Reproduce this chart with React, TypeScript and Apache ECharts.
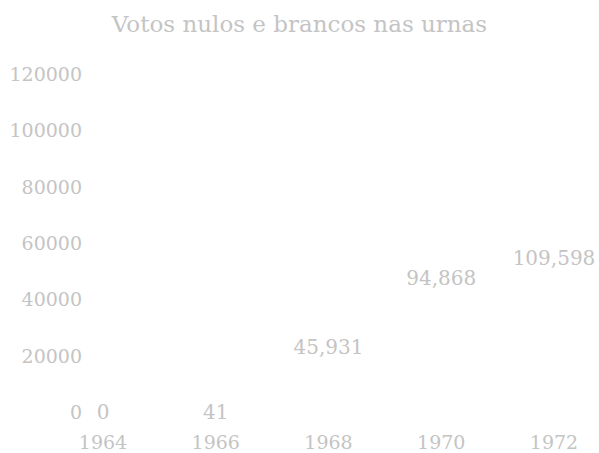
import React, { useEffect, useRef } from "react";
import * as echarts from "echarts";

const titleText = "Votos nulos e brancos nas urnas";
const years = ["1964", "1966", "1968", "1970", "1972"];
const values = [0, 41, 45931, 94868, 109598];
const yTicks = { min: 0, max: 120000, interval: 20000 };

const TEXT = "#c4c4c4";
const FONT = "DejaVu Serif";

export default function App() {
  const ref = useRef<HTMLDivElement>(null);
  useEffect(() => {
    document.body.style.margin = "0";
    if (!ref.current) return;
    const chart = echarts.init(ref.current, null, { renderer: "svg" });
    chart.setOption({
      animation: false,
      backgroundColor: "#ffffff",
      title: {
        text: titleText,
        left: "center",
        top: 7,
        textStyle: { color: TEXT, fontFamily: FONT, fontSize: 23, fontWeight: "normal" },
      },
      grid: { left: 103, right: 45, top: 74, bottom: 41, containLabel: false },
      xAxis: {
        type: "category",
        data: years,
        boundaryGap: false,
        axisLine: { show: false },
        axisTick: { show: false },
        splitLine: { show: false },
        axisLabel: { color: TEXT, fontFamily: FONT, fontSize: 19, margin: 20 },
      },
      yAxis: {
        type: "value",
        min: yTicks.min,
        max: yTicks.max,
        interval: yTicks.interval,
        axisLine: { show: false },
        axisTick: { show: false },
        splitLine: { show: false },
        axisLabel: {
          color: TEXT,
          fontFamily: FONT,
          fontSize: 19,
          margin: 21,
          formatter: (v: number) => String(v),
        },
      },
      series: [
        {
          type: "bar",
          data: values,
          barWidth: 40,
          itemStyle: { color: "rgba(255,255,255,0)" },
          label: {
            show: true,
            position: "inside",
            color: TEXT,
            fontFamily: FONT,
            fontSize: 20,
            formatter: (p: any) => Number(p.value).toLocaleString("en-US"),
          },
        },
      ],
    });
    return () => chart.dispose();
  }, []);
  return <div ref={ref} style={{ width: 599, height: 453 }} />;
}
